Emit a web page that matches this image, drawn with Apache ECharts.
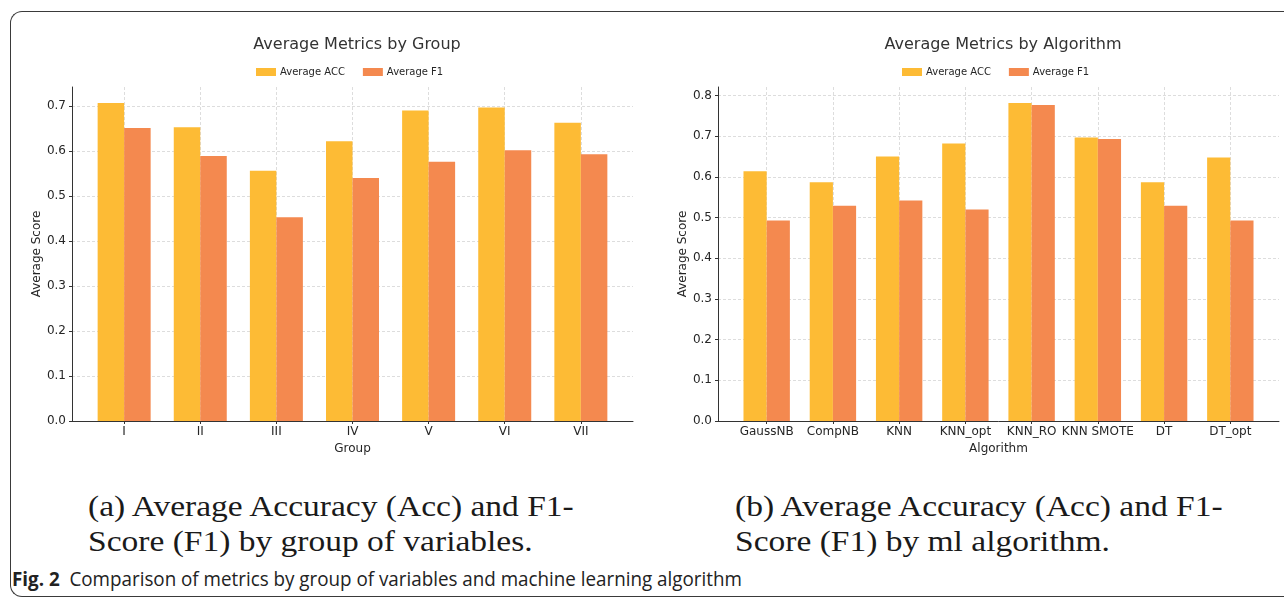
<!DOCTYPE html>
<html>
<head>
<meta charset="utf-8">
<script src="https://cdn.jsdelivr.net/npm/echarts@6/dist/echarts.min.js"></script>
<style>
  html, body { margin: 0; padding: 0; background: #fff; overflow: hidden; }
  #page { position: relative; width: 1284px; height: 599px; overflow: hidden; }
  #frame {
    position: absolute; left: 10px; top: 11px; width: 1320px; height: 586px;
    border: 1.5px solid #3a3a3a; border-right: none; border-radius: 12px 0 0 12px; box-sizing: border-box;
  }
  #main { position: absolute; left: 0; top: 0; width: 1284px; height: 470px; }
  .cap {
    position: absolute; font-family: "Liberation Serif", serif; font-size: 29px;
    color: #1a1a1a; white-space: nowrap; transform-origin: left center; transform: scaleX(1.155);
  }
  #fig {
    position: absolute; left: 12px; top: 565px; font-family: "Open Sans", sans-serif;
    font-size: 20px; color: #222; white-space: nowrap; transform-origin: left center; transform: scaleX(0.94);
  }
</style>
</head>
<body>
<div id="page">
<div id="frame"></div>
<div id="main"></div>
<div class="cap" style="left:88px; top:490px;">(a) Average Accuracy (Acc) and F1-</div>
<div class="cap" style="left:88px; top:525px;">Score (F1) by group of variables.</div>
<div class="cap" style="left:735px; top:490px;">(b) Average Accuracy (Acc) and F1-</div>
<div class="cap" style="left:735px; top:525px;">Score (F1) by ml algorithm.</div>
<div id="fig"><b>Fig. 2</b>&nbsp; Comparison of metrics by group of variables and machine learning algorithm</div>
</div>
<script>
// left panel: by group
var groups = ['I', 'II', 'III', 'IV', 'V', 'VI', 'VII'];
var groupAcc = [0.707, 0.653, 0.556, 0.622, 0.690, 0.697, 0.663];
var groupF1 = [0.651, 0.589, 0.453, 0.540, 0.576, 0.602, 0.593];
var groupTicks = [0, 0.1, 0.2, 0.3, 0.4, 0.5, 0.6, 0.7];

// right panel: by algorithm
var algos = ['GaussNB', 'CompNB', 'KNN', 'KNN_opt', 'KNN_RO', 'KNN SMOTE', 'DT', 'DT_opt'];
var algoAcc = [0.614, 0.587, 0.650, 0.682, 0.782, 0.697, 0.587, 0.648];
var algoF1 = [0.493, 0.529, 0.542, 0.520, 0.777, 0.693, 0.529, 0.493];
var algoTicks = [0, 0.1, 0.2, 0.3, 0.4, 0.5, 0.6, 0.7, 0.8];

var colAcc = '#FDBB35';
var colF1 = '#F4894F';
var font = 'DejaVu Sans';
var ink = '#262626';

function pairs(vals) {
  return vals.map(function (v, i) { return [i, v]; });
}
function idx(n) {
  var a = [];
  for (var i = 0; i < n; i++) a.push(i);
  return a;
}

function xAxisFor(cats, gi, name) {
  var n = cats.length;
  // matplotlib style x limits: bars +-0.35 plus 5% margins
  var pad = 0.35 + (n - 1 + 0.7) * 0.05;
  return {
    type: 'value', gridIndex: gi, min: -pad, max: n - 1 + pad,
    name: name, nameLocation: 'middle', nameGap: 18,
    nameTextStyle: { fontFamily: font, fontSize: 12, color: ink },
    axisLine: { show: true, onZero: false, lineStyle: { color: '#333', width: 1 } },
    axisTick: { show: true, length: 3, customValues: idx(n), lineStyle: { color: '#333' } },
    axisLabel: {
      customValues: idx(n), margin: 5, fontFamily: font, fontSize: 12, color: ink,
      formatter: function (v) { return cats[Math.round(v)]; }
    },
    splitLine: { show: true, lineStyle: { color: '#d4d4d4', type: [3, 2], width: 0.8 } }
  };
}

function yAxisFor(ticks, top, gi) {
  return {
    type: 'value', gridIndex: gi, min: 0, max: top,
    name: 'Average Score', nameLocation: 'middle', nameGap: 28,
    nameTextStyle: { fontFamily: font, fontSize: 12, color: ink },
    axisLine: { show: true, onZero: false, lineStyle: { color: '#333', width: 1 } },
    axisTick: { show: true, length: 3, customValues: ticks, lineStyle: { color: '#333' } },
    axisLabel: {
      customValues: ticks, margin: 6, fontFamily: font, fontSize: 12, color: ink,
      formatter: function (v) { return v.toFixed(1); }
    },
    splitLine: { show: true, lineStyle: { color: '#d4d4d4', type: [3, 2], width: 0.8 } }
  };
}

function barSeries(name, vals, gi, color, w) {
  return {
    name: name, type: 'bar', xAxisIndex: gi, yAxisIndex: gi,
    data: pairs(vals), barWidth: w, barGap: '0%',
    itemStyle: { color: color }, emphasis: { disabled: true }
  };
}

var legendCommon = {
  data: ['Average ACC', 'Average F1'], orient: 'horizontal',
  itemWidth: 20, itemHeight: 8, itemGap: 18, icon: 'rect',
  textStyle: { fontFamily: font, fontSize: 10, color: ink, padding: [0, 0, 0, -1] }
};

var myChart = echarts.init(document.getElementById('main'), null, { renderer: 'canvas' });

var option = {
  animation: false,
  title: [
    { text: 'Average Metrics by Group', left: 352, top: 32, textAlign: 'center',
      textStyle: { fontFamily: font, fontSize: 16, fontWeight: 'normal', color: '#333' } },
    { text: 'Average Metrics by Algorithm', left: 998, top: 32, textAlign: 'center',
      textStyle: { fontFamily: font, fontSize: 16, fontWeight: 'normal', color: '#333' } }
  ],
  legend: [
    Object.assign({ left: 251, top: 62 }, legendCommon),
    Object.assign({ left: 897, top: 62 }, legendCommon)
  ],
  grid: [
    { left: 72, top: 87, width: 561, height: 334 },
    { left: 718, top: 87, width: 561, height: 334 }
  ],
  xAxis: [
    xAxisFor(groups, 0, 'Group'),
    xAxisFor(algos, 1, 'Algorithm')
  ],
  yAxis: [
    yAxisFor(groupTicks, Math.max.apply(null, groupAcc) * 1.05, 0),
    yAxisFor(algoTicks, Math.max.apply(null, algoAcc) * 1.05, 1)
  ],
  series: [
    barSeries('Average ACC', groupAcc, 0, colAcc, 26.5),
    barSeries('Average F1', groupF1, 0, colF1, 26.5),
    barSeries('Average ACC', algoAcc, 1, colAcc, 23.2),
    barSeries('Average F1', algoF1, 1, colF1, 23.2)
  ]
};

myChart.setOption(option);
</script>
</body>
</html>
